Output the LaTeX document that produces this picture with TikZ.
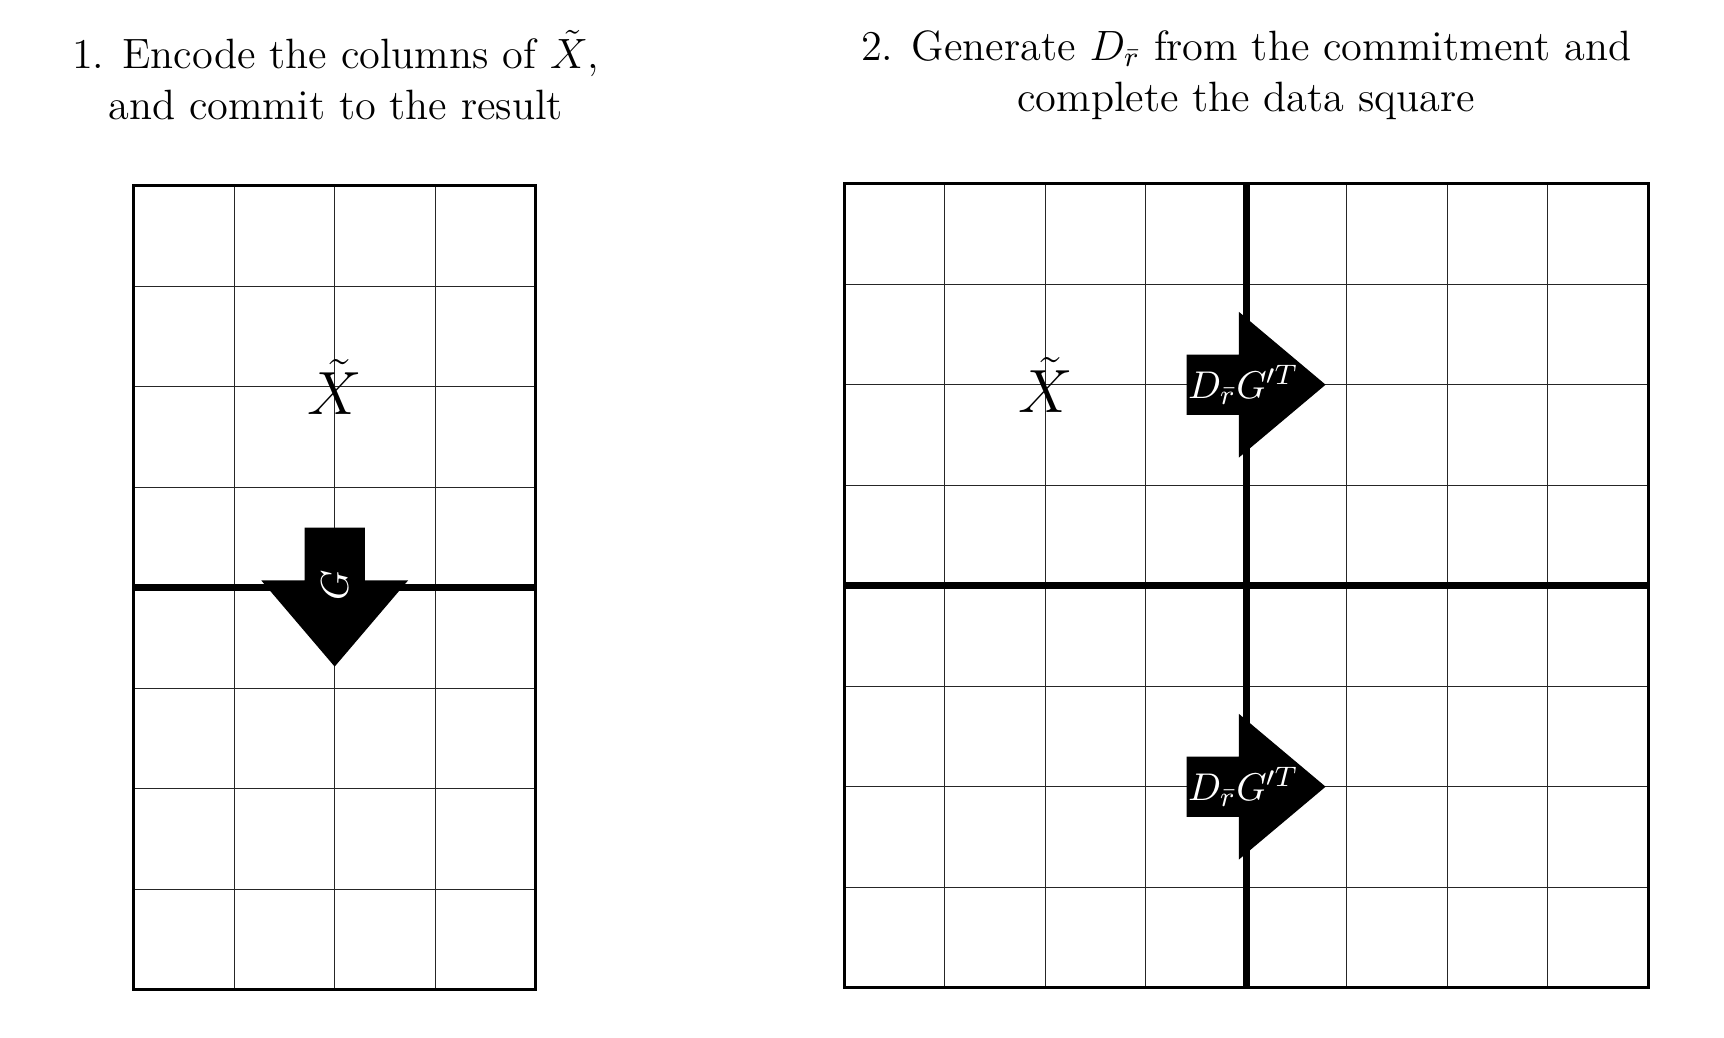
\documentclass[tikz,border=0pt]{standalone}
\tikzset{
  gridline/.style={line width=0.35pt, black!85},
  border/.style={line width=0.9pt},
  divider/.style={line width=2pt},
  title/.style={align=center, font=\fontsize{12}{14.5}\selectfont},
  matlabel/.style={font=\fontsize{17.28}{20}\selectfont},
  arrowlabel/.style={text=white, inner sep=0pt, font=\fontsize{10.95}{13}\selectfont}
}
\begin{document}
\begin{tikzpicture}
  \useasboundingbox (0,0) rectangle (17.154,10.328);
  % titles
  \node [title, anchor=base] (title1) at (3.34,9.134) {1. Encode the columns of $\tilde{X}$,\\ and commit to the result};
  \node [title, anchor=base] (title2) at (12.4,9.217) {2. Generate $D_{\bar{r}}$ from the commitment and\\ complete the data square};
  % left grid, 4 x 8
  \begin{scope}[shift={(1.33,0.48)}]
    \draw [gridline] (0,0) grid (4,8);
    \draw [divider] (0,4)--(4,4);
    \draw [border] (0,0) rectangle (4,8);
    \node [matlabel] (xleft) at (2,6) {$\tilde{X}$};
    \fill (1.7,4.598)--(2.3,4.598)--(2.3,4.072)--(2.73,4.072)--(2,3.215)--(1.27,4.072)--(1.7,4.072)--cycle;
    \node [arrowlabel, rotate=90] (enc) at (2,4.02) {$G$};
  \end{scope}
  % right grid, 8 x 8
  \begin{scope}[shift={(8.4,0.5)}]
    \draw [gridline] (0,0) grid (8,8);
    \draw [divider] (0,4)--(8,4);
    \draw [divider] (4,0)--(4,8);
    \draw [border] (0,0) rectangle (8,8);
    \node [matlabel] (xright) at (2,6) {$\tilde{X}$};
    \fill (3.407,6.3)--(3.927,6.3)--(3.927,6.725)--(4.79,6)--(3.927,5.275)--(3.927,5.7)--(3.407,5.7)--cycle;
    \node [arrowlabel] (extup) at (3.97,6) {$D_{\bar{r}}G'^T$};
    \fill (3.407,2.3)--(3.927,2.3)--(3.927,2.725)--(4.79,2)--(3.927,1.275)--(3.927,1.7)--(3.407,1.7)--cycle;
    \node [arrowlabel] (extdown) at (3.97,2) {$D_{\bar{r}}G'^T$};
  \end{scope}
\end{tikzpicture}
\end{document}
